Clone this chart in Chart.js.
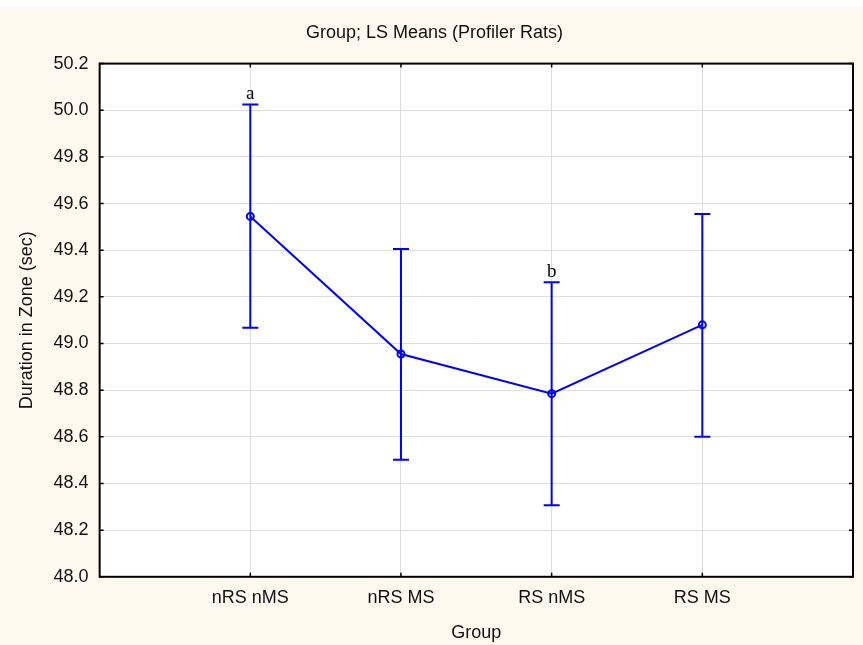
<!DOCTYPE html>
<html>
<head>
<meta charset="utf-8">
<script src="https://cdn.jsdelivr.net/npm/chart.js@4/dist/chart.umd.min.js"></script>
<style>
    html, body { margin: 0; padding: 0; background: #ffffff; }
    #wrap { width: 863px; height: 645px; }
</style>
</head>
<body>
<div id="wrap"><canvas id="ls-chart" width="863" height="645"></canvas></div>
<script>
const groups = ['nRS nMS', 'nRS MS', 'RS nMS', 'RS MS'];
const means = [49.545, 48.955, 48.785, 49.08];
const upper = [50.025, 49.405, 49.263, 49.555];
const lower = [49.068, 48.502, 48.307, 48.600];
const letters = ['a', '', 'b', ''];
const yTicks = [48.0, 48.2, 48.4, 48.6, 48.8, 49.0, 49.2, 49.4, 49.6, 49.8, 50.0, 50.2];

const BLUE = '#0000ff';
const FONT = 'Liberation Sans, Arial, sans-serif';

// cream page with the thin white strip on top
const pageBackground = {
    id: 'pageBackground',
    beforeDraw(chart) {
        const { ctx, width, height, chartArea } = chart;
        ctx.save();
        ctx.fillStyle = '#fdf9ef';
        ctx.fillRect(0, 7, width, height - 7);
        ctx.fillStyle = '#ffffff';
        ctx.fillRect(chartArea.left, chartArea.top, chartArea.right - chartArea.left, chartArea.bottom - chartArea.top);
        ctx.restore();
    },
};

// frame with inward ticks on all four sides
const frame = {
    id: 'frame',
    afterDraw(chart) {
        const { ctx, chartArea: a, scales } = chart;
        ctx.save();
        ctx.strokeStyle = '#000000';
        ctx.lineWidth = 2;
        ctx.strokeRect(a.left, a.top, a.right - a.left, a.bottom - a.top);
        ctx.lineWidth = 1.5;
        ctx.beginPath();
        yTicks.forEach((v) => {
            const y = scales.y.getPixelForValue(v);
            ctx.moveTo(a.left, y);
            ctx.lineTo(a.left + 4, y);
            ctx.moveTo(a.right, y);
            ctx.lineTo(a.right - 4, y);
        });
        groups.forEach((g, i) => {
            const x = scales.x.getPixelForValue(i + 1);
            ctx.moveTo(x, a.bottom);
            ctx.lineTo(x, a.bottom - 4);
            ctx.moveTo(x, a.top);
            ctx.lineTo(x, a.top + 4);
        });
        ctx.stroke();
        ctx.restore();
    },
};

// vertical error bars with caps, plus the letter marks
const errorBars = {
    id: 'errorBars',
    afterDatasetsDraw(chart) {
        const { ctx, scales } = chart;
        ctx.save();
        ctx.strokeStyle = BLUE;
        ctx.lineWidth = 2;
        groups.forEach((g, i) => {
            const x = scales.x.getPixelForValue(i + 1);
            const yt = scales.y.getPixelForValue(upper[i]);
            const yb = scales.y.getPixelForValue(lower[i]);
            ctx.beginPath();
            ctx.moveTo(x, yt);
            ctx.lineTo(x, yb);
            ctx.moveTo(x - 8, yt);
            ctx.lineTo(x + 8, yt);
            ctx.moveTo(x - 8, yb);
            ctx.lineTo(x + 8, yb);
            ctx.stroke();
            if (letters[i]) {
                ctx.fillStyle = '#000000';
                ctx.font = '19px "Liberation Serif", serif';
                ctx.textAlign = 'center';
                ctx.textBaseline = 'bottom';
                ctx.fillText(letters[i], x, yt - 1);
            }
        });
        ctx.restore();
    },
};

new Chart(document.getElementById('ls-chart'), {
    type: 'line',
    data: {
        datasets: [{
            data: means.map((m, i) => ({ x: i + 1, y: m })),
            borderColor: BLUE,
            borderWidth: 2,
            pointRadius: 3.5,
            pointBorderWidth: 2,
            pointBorderColor: BLUE,
            pointBackgroundColor: 'rgba(0,0,0,0)',
            tension: 0,
        }],
    },
    options: {
        responsive: false,
        animation: false,
        layout: {
            padding: { left: 16, right: 10, top: 0, bottom: 1 },
        },
        plugins: {
            legend: { display: false },
            tooltip: { enabled: false },
            title: {
                display: true,
                text: 'Group; LS Means (Profiler Rats)',
                color: '#111111',
                font: { family: FONT, size: 18, weight: 'normal' },
                padding: { top: 22, bottom: 20 },
            },
        },
        scales: {
            x: {
                type: 'linear',
                min: 0,
                max: 5,
                afterBuildTicks(scale) {
                    scale.ticks = [0, 1, 2, 3, 4, 5].map((v) => ({ value: v }));
                },
                ticks: {
                    color: '#111111',
                    font: { family: FONT, size: 18 },
                    padding: 10,
                    callback: (v) => groups[v - 1] ?? '',
                },
                grid: {
                    color: (c) => (c.tick && c.tick.value >= 1 && c.tick.value <= 4 ? '#dddddd' : 'rgba(0,0,0,0)'),
                    drawTicks: false,
                },
                border: { display: false },
                title: {
                    display: true,
                    text: 'Group',
                    color: '#111111',
                    font: { family: FONT, size: 18 },
                    padding: { top: 4, bottom: 0 },
                },
            },
            y: {
                min: 48,
                max: 50.2,
                afterBuildTicks(scale) {
                    scale.ticks = yTicks.map((v) => ({ value: v }));
                },
                ticks: {
                    color: '#111111',
                    font: { family: FONT, size: 18 },
                    padding: 11,
                    callback: (v) => Number(v).toFixed(1),
                },
                grid: {
                    color: '#dddddd',
                    drawTicks: false,
                },
                border: { display: false },
                title: {
                    display: true,
                    text: 'Duration in Zone (sec)',
                    color: '#111111',
                    font: { family: FONT, size: 18 },
                    padding: { top: 0, bottom: 5 },
                },
            },
        },
    },
    plugins: [pageBackground, errorBars, frame],
});
</script>
</body>
</html>
